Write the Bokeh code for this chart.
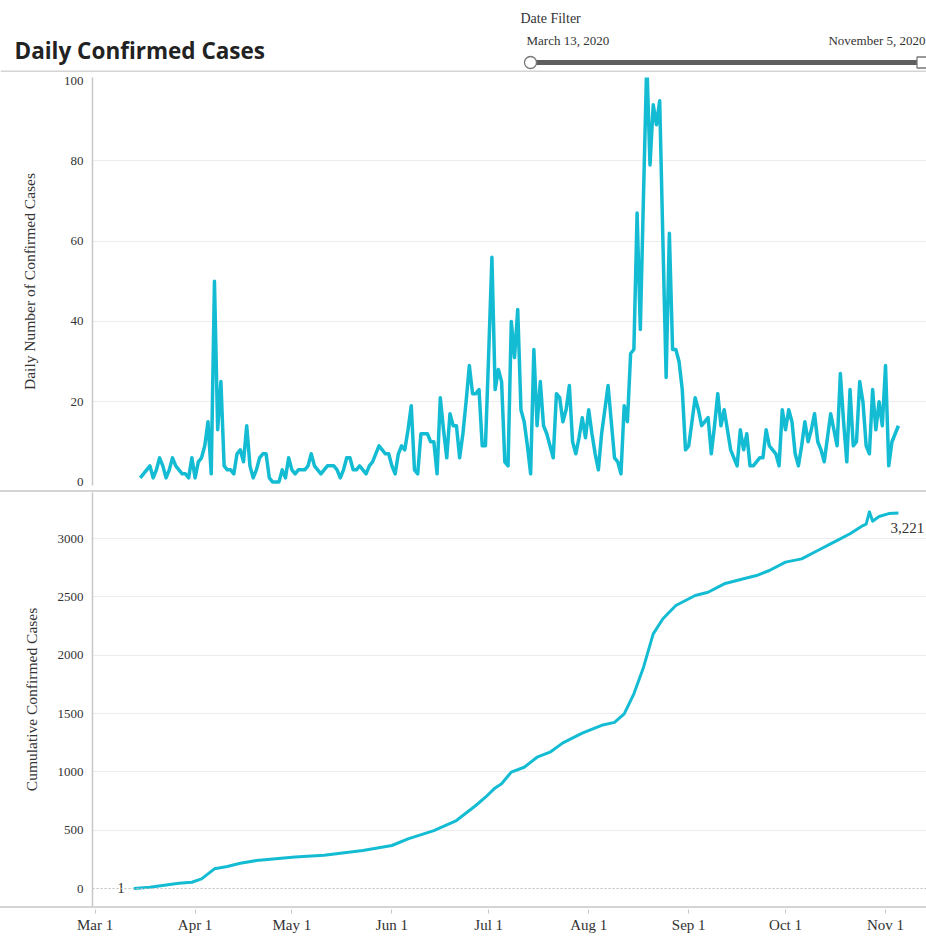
import pandas as pd
from bokeh.plotting import figure
from bokeh.layouts import column
from bokeh.models import Range1d, FixedTicker, Span, Div
from bokeh.core.properties import value
from bokeh.embed import file_html
from bokeh.resources import INLINE

# ---------------- data ----------------
AXIS_START = "2020-03-01"
daily_first_date = "2020-03-15"
daily_cases = [
    1, 2, 3, 4, 1, 3, 6, 4, 1, 3,
    6, 4, 3, 2, 2, 1, 6, 1, 5, 6,
    9, 15, 2, 50, 13, 25, 4, 3, 3, 2,
    7, 8, 5, 14, 4, 1, 3, 6, 7, 7,
    1, 0, 0, 0, 3, 1, 6, 3, 2, 3,
    3, 3, 4, 7, 4, 3, 2, 3, 4, 4,
    4, 3, 1, 3, 6, 6, 3, 3, 4, 3,
    2, 4, 5, 7, 9, 8, 7, 7, 4, 2,
    7, 9, 8, 13, 19, 3, 2, 12, 12, 12,
    10, 10, 2, 21, 13, 6, 17, 14, 14, 6,
    12, 20, 29, 22, 22, 23, 9, 9, 32, 56,
    23, 28, 25, 5, 4, 40, 31, 43, 18, 15,
    9, 2, 33, 14, 25, 14, 12, 9, 6, 22,
    21, 15, 18, 24, 10, 7, 11, 16, 11, 18,
    12, 7, 3, 12, 18, 24, 15, 6, 5, 2,
    19, 15, 32, 33, 67, 38, 72, 105, 79, 94,
    89, 95, 60, 26, 62, 33, 33, 30, 23, 8,
    9, 15, 21, 18, 14, 15, 16, 7, 14, 22,
    14, 18, 13, 8, 6, 4, 13, 8, 12, 4,
    4, 5, 6, 6, 13, 9, 8, 7, 4, 18,
    13, 18, 15, 7, 4, 9, 15, 10, 13, 17,
    10, 8, 5, 11, 17, 13, 9, 27, 15, 5,
    23, 9, 10, 25, 20, 9, 7, 23, 13, 20,
    14, 29, 4, 10, 12, 14,
]

cum_dates = [
    "2020-03-13", "2020-03-18", "2020-03-23", "2020-03-27", "2020-03-31",
    "2020-04-03", "2020-04-07", "2020-04-11", "2020-04-15", "2020-04-20",
    "2020-04-26", "2020-05-02", "2020-05-11", "2020-05-23", "2020-06-01",
    "2020-06-06", "2020-06-14", "2020-06-21", "2020-06-27", "2020-06-30",
    "2020-07-03", "2020-07-05", "2020-07-08", "2020-07-12", "2020-07-16",
    "2020-07-20", "2020-07-24", "2020-07-30", "2020-08-05", "2020-08-09",
    "2020-08-12", "2020-08-15", "2020-08-18", "2020-08-21", "2020-08-24",
    "2020-08-28", "2020-09-03", "2020-09-07", "2020-09-12", "2020-09-18",
    "2020-09-22", "2020-09-26", "2020-10-01", "2020-10-06", "2020-10-11",
    "2020-10-16", "2020-10-21", "2020-10-25", "2020-10-26", "2020-10-27",
    "2020-10-28", "2020-10-30", "2020-11-02", "2020-11-05",
]
cum_cases = [
    1, 11, 31, 46, 54,
    83, 169, 189, 217, 240,
    255, 270, 285, 326, 369,
    426, 497, 583, 712, 783,
    863, 898, 998, 1040, 1126,
    1169, 1249, 1332, 1400, 1425,
    1498, 1670, 1898, 2184, 2313,
    2427, 2513, 2541, 2613, 2656,
    2684, 2727, 2799, 2827, 2899,
    2970, 3042, 3113, 3125, 3230,
    3150, 3190, 3215, 3221,
]

month_tick_dates = ["2020-03-01", "2020-04-01", "2020-05-01", "2020-06-01", "2020-07-01",
                    "2020-08-01", "2020-09-01", "2020-10-01", "2020-11-01"]
month_tick_labels = ["Mar 1", "Apr 1", "May 1", "Jun 1", "Jul 1",
                     "Aug 1", "Sep 1", "Oct 1", "Nov 1"]
daily_ticks = [0, 20, 40, 60, 80, 100]
cum_ticks = [0, 500, 1000, 1500, 2000, 2500, 3000]

title_text = "Daily Confirmed Cases"
filter_title = "Date Filter"
filter_from = "March 13, 2020"
filter_to = "November 5, 2020"

# ---------------- derived positions ----------------
t0 = pd.Timestamp(AXIS_START)
daily_x = [(pd.Timestamp(daily_first_date) + pd.Timedelta(days=i) - t0).days
           for i in range(len(daily_cases))]
cum_x = [(pd.Timestamp(d) - t0).days for d in cum_dates]
tick_x = [(pd.Timestamp(d) - t0).days for d in month_tick_dates]

LINE = "#14BCD3"
SERIF = "Liberation Serif"
GRAY = "#d4d4d4"
TXT = "#333333"
W = 926
LEFT = 92
FW = W - LEFT

xr = Range1d(-0.8, 257.7)


def strip():
    return Div(text="", width=W, height=2, margin=0,
               styles={"background-color": GRAY, "padding": "0", "overflow": "hidden"})


def style_y(p, ticks, title, standoff):
    ax = p.yaxis[0]
    ax.ticker = FixedTicker(ticks=ticks)
    ax.axis_label = title
    ax.axis_label_text_font = SERIF
    ax.axis_label_text_font_style = "normal"
    ax.axis_label_text_font_size = "15.5px"
    ax.axis_label_text_color = TXT
    ax.axis_label_standoff = standoff
    ax.major_label_text_font = SERIF
    ax.major_label_text_font_size = "13px"
    ax.major_label_text_color = TXT
    ax.major_label_standoff = 9
    ax.major_tick_out = 0
    ax.major_tick_in = 0
    ax.minor_tick_out = 0
    ax.minor_tick_in = 0
    ax.axis_line_color = "#c8c8c8"
    ax.axis_line_width = 1.5
    p.xaxis.visible = False
    p.xgrid.visible = False
    p.ygrid.grid_line_color = "#ececec"
    p.ygrid.grid_line_width = 1


# ---------------- header ----------------
H_HDR = 72
hdr = figure(width=W, height=H_HDR, x_range=Range1d(0, W), y_range=Range1d(0, H_HDR),
             x_axis_type=None, y_axis_type=None, toolbar_location=None,
             output_backend="svg", min_border=0, outline_line_color=None,
             frame_align=False)
hdr.text(x=[14], y=[22.5], text=[title_text], text_font=value("Open Sans"),
         text_font_style="bold", text_font_size="22.5px", text_color="#222222",
         text_baseline="alphabetic", text_align="left")
hdr.text(x=[520], y=[54.5], text=[filter_title], text_font=value(SERIF),
         text_font_size="14px", text_color=TXT, text_baseline="alphabetic")
hdr.text(x=[526], y=[32], text=[filter_from], text_font=value(SERIF),
         text_font_size="13px", text_color=TXT, text_baseline="alphabetic")
hdr.text(x=[925], y=[32], text=[filter_to], text_font=value(SERIF),
         text_font_size="13px", text_color=TXT, text_baseline="alphabetic",
         text_align="right")
hdr.segment(x0=[532], y0=[10], x1=[W], y1=[10], line_color="#5e5e5e", line_width=5)
hdr.scatter(x=[530], y=[10], marker="circle", size=12, fill_color="white",
            line_color="#777777", line_width=1.3)
hdr.scatter(x=[922], y=[10], marker="square", size=11, fill_color="white",
            line_color="#777777", line_width=1.3)
hdr.quad(left=[0], right=[W], bottom=[0], top=[2], fill_color=GRAY, line_color=None)

# ---------------- daily panel ----------------
top = figure(frame_width=FW, frame_height=408, x_range=xr, y_range=Range1d(-0.9, 100.8),
             toolbar_location=None, output_backend="svg",
             min_border_left=LEFT, min_border_right=0, min_border_top=5,
             min_border_bottom=5, outline_line_color=None)
style_y(top, daily_ticks, "Daily Number of Confirmed Cases", 23)
top.ygrid.ticker = FixedTicker(ticks=[20, 40, 60, 80])
top.line(daily_x, daily_cases, line_color=LINE, line_width=3.5, line_join="round")

# ---------------- cumulative panel ----------------
bot = figure(frame_width=FW, frame_height=414, x_range=xr, y_range=Range1d(-154, 3396),
             toolbar_location=None, output_backend="svg",
             min_border_left=LEFT, min_border_right=0, min_border_top=0,
             min_border_bottom=0, outline_line_color=None)
style_y(bot, cum_ticks, "Cumulative Confirmed Cases", 15)
bot.ygrid.ticker = FixedTicker(ticks=[500, 1000, 1500, 2000, 2500, 3000])
bot.add_layout(Span(location=0, dimension="width", line_color="#bdbdbd",
                    line_width=1, line_dash="2 2"))
bot.line(cum_x, cum_cases, line_color=LINE, line_width=3, line_join="round")
bot.text(x=[cum_x[0]], y=[cum_cases[0]], text=[f"{cum_cases[0]:,}"],
         x_offset=-9, text_align="right", text_baseline="middle",
         text_font=value(SERIF), text_font_size="15px", text_color=TXT)
bot.text(x=[cum_x[-1]], y=[cum_cases[-1]], text=[f"{cum_cases[-1]:,}"],
         x_offset=-8, y_offset=15, text_align="left", text_baseline="middle",
         text_font=value(SERIF), text_font_size="15px", text_color=TXT)

# ---------------- x axis strip ----------------
axf = figure(frame_width=FW, frame_height=1, x_range=xr, y_range=Range1d(0, 1),
             y_axis_type=None, toolbar_location=None, output_backend="svg",
             min_border_left=LEFT, min_border_right=0, min_border_top=0,
             min_border_bottom=0, outline_line_color=None)
axf.xgrid.visible = False
xa = axf.xaxis[0]
xa.ticker = FixedTicker(ticks=tick_x)
xa.major_label_overrides = {t: lab for t, lab in zip(tick_x, month_tick_labels)}
xa.major_label_text_font = SERIF
xa.major_label_text_font_size = "15px"
xa.major_label_text_color = TXT
xa.major_label_standoff = 3
xa.major_tick_out = 4
xa.major_tick_in = 0
xa.minor_tick_out = 0
xa.minor_tick_in = 0
xa.major_tick_line_color = "#c8c8c8"
xa.axis_line_color = None

layout = column(hdr, top, strip(), bot, strip(), axf)
open("out.html", "w").write(file_html(layout, INLINE))
